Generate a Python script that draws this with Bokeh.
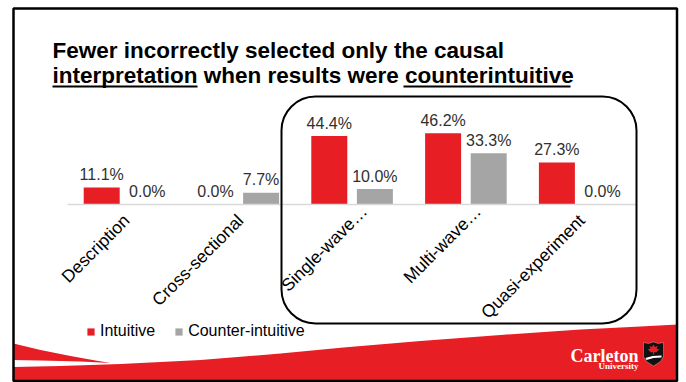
import math
from bokeh.plotting import figure
from bokeh.models import (ColumnDataSource, Range1d, Label, BoxAnnotation, PolyAnnotation,
                          Legend, LegendItem, CDSView, BooleanFilter)
from bokeh.transform import dodge
from bokeh.core.properties import value
from bokeh.embed import file_html
from bokeh.resources import INLINE

# ---- data ----
categories = ["Description", "Cross-sectional", "Single-wave\u2026", "Multi-wave\u2026", "Quasi-experiment"]
intuitive = [11.1, 0.0, 44.4, 46.2, 27.3]
counter_intuitive = [0.0, 7.7, 10.0, 33.3, 0.0]
series_names = ["Intuitive", "Counter-intuitive"]
title_line1 = "Fewer incorrectly selected only the causal"
title_line2 = "interpretation when results were counterintuitive"

W, H = 686, 382
RED = "#E81E25"
GRAY = "#A5A5A5"
TXT = "#303030"
FONT = "Liberation Sans"

idx = list(range(len(categories)))
src = ColumnDataSource(dict(
    idx=idx, cat=categories,
    intuitive=intuitive, counter=counter_intuitive,
    zero=[0] * len(categories),
    lab_i=["%.1f%%" % v for v in intuitive],
    lab_c=["%.1f%%" % v for v in counter_intuitive],
))

px_per_cat = 113.8
px_per_pct = 1.54
x0_px = 124.0      # pixel position of first category centre
base_px = 204.0    # pixel row (from top) of the zero line

p = figure(width=W, height=H, output_backend="svg", toolbar_location=None,
           x_axis_location=None, y_axis_location=None,
           x_range=Range1d(-x0_px / px_per_cat, (W - x0_px) / px_per_cat),
           y_range=Range1d(-(H - base_px) / px_per_pct, base_px / px_per_pct),
           min_border=0, outline_line_color=None, background_fill_color="white",
           border_fill_color="white")
p.grid.visible = False

# ---- background swoosh (screen units, y measured from bottom) ----
def scr(pts):
    return [q[0] for q in pts], [H - q[1] for q in pts]

band = [(13, 366.5), (60, 365.5), (120, 363.5), (200, 359.5), (280, 353), (343, 347),
        (420, 340.5), (500, 334.5), (580, 329), (640, 326), (677, 324), (677, 381), (13, 381)]
bx, by = scr(band)
p.add_layout(PolyAnnotation(xs=bx, ys=by, xs_units="screen", ys_units="screen",
                            fill_color=RED, fill_alpha=1, line_alpha=0))
wedge = [(13, 343), (40, 349.5), (70, 355.5), (95, 360), (110, 362.5), (80, 361),
         (40, 360), (13, 359.5)]
wx, wy = scr(wedge)
p.add_layout(PolyAnnotation(xs=wx, ys=wy, xs_units="screen", ys_units="screen",
                            fill_color=RED, fill_alpha=1, line_alpha=0))

# ---- bars ----
bw = 36 / px_per_cat
off = 22.8 / px_per_cat
r1 = p.vbar(x=dodge("idx", -off, range=p.x_range), top="intuitive", bottom=0, width=bw,
            source=src, fill_color=RED, line_color=None)
r2 = p.vbar(x=dodge("idx", off, range=p.x_range), top="counter", bottom=0, width=bw,
            source=src, fill_color=GRAY, line_color=None)

# zero line
p.segment(x0=-0.5, y0=0, x1=len(categories) - 0.5, y1=0, line_color="#D9D9D9", line_width=1.5)

# value labels
for field, lab, o in (("intuitive", "lab_i", -off), ("counter", "lab_c", off)):
    p.text(x=dodge("idx", o, range=p.x_range), y=field, text=lab, source=src,
           text_font=value(FONT), text_font_size=value("16px"), text_color=TXT,
           text_align="center", text_baseline="alphabetic", y_offset=-13)

# category labels (truncated labels sit a little further along their slant, as in Excel)
truncated = [c.endswith("\u2026") for c in categories]
for mask, xo, yo in (([not t for t in truncated], 2, 13), (truncated, 12, 4)):
    p.text(x="idx", y="zero", text="cat", source=src, view=CDSView(filter=BooleanFilter(mask)),
           angle=math.pi / 4,
           text_font=value(FONT), text_font_size=value("17.5px"), text_color="#000000",
           text_align="right", text_baseline="middle", x_offset=xo, y_offset=yo)

# ---- legend ----
legend = Legend(items=[LegendItem(label=series_names[0], renderers=[r1]),
                       LegendItem(label=series_names[1], renderers=[r2])],
                orientation="horizontal", location=(86, 42),
                glyph_width=9, glyph_height=9, label_standoff=5, spacing=19,
                label_text_font=FONT, label_text_font_size="16px", label_text_color="#000000",
                label_height=16, padding=0, margin=0,
                border_line_alpha=0, background_fill_alpha=0)
p.add_layout(legend)

# ---- rounded highlight box ----
p.add_layout(BoxAnnotation(left=281, right=636, top=H - 96, bottom=H - 323,
                           left_units="screen", right_units="screen",
                           top_units="screen", bottom_units="screen",
                           fill_alpha=0, line_color="black", line_alpha=1, line_width=2,
                           border_radius=34))

# ---- slide border ----
p.add_layout(BoxAnnotation(left=13, right=676.5, top=H - 8, bottom=H - 380.5,
                           left_units="screen", right_units="screen",
                           top_units="screen", bottom_units="screen",
                           fill_alpha=0, line_color="black", line_alpha=1, line_width=2.5))

# ---- title ----
for txt, yb in ((title_line1, 50), (title_line2, 75)):
    p.add_layout(Label(x=52, y=H - yb, x_units="screen", y_units="screen", text=txt,
                       text_font=FONT, text_font_style="bold", text_font_size="22.5px",
                       text_color="black", text_baseline="alphabetic", text_align="left"))
for l, r in ((52, 197), (403, 570)):
    p.add_layout(BoxAnnotation(left=l, right=r, top=H - 85, bottom=H - 87,
                               left_units="screen", right_units="screen",
                               top_units="screen", bottom_units="screen",
                               fill_color="black", fill_alpha=1, line_alpha=0))

# ---- logo ----
p.add_layout(Label(x=638, y=H - 355, x_units="screen", y_units="screen", text="Carleton",
                   text_font="Liberation Serif", text_font_style="bold", text_font_size="18px",
                   text_color="white", text_align="right", text_baseline="alphabetic"))
p.add_layout(Label(x=638, y=H - 365, x_units="screen", y_units="screen", text="University",
                   text_font="Liberation Serif", text_font_style="bold", text_font_size="9px",
                   text_color="white", text_align="right", text_baseline="alphabetic"))
shield = [(643, 342), (648, 343), (653, 341.5), (658, 343), (663, 342), (663, 356), (660, 361),
          (653, 365.5), (646, 361), (643, 356)]
sx, sy = scr(shield)
p.add_layout(PolyAnnotation(xs=sx, ys=sy, xs_units="screen", ys_units="screen",
                            fill_color="#111111", fill_alpha=1, line_color="white", line_width=1))
leaf = [(653, 344), (654.5, 346.5), (657, 345.5), (656.2, 348.5), (659, 348.5), (655.5, 352),
        (653.6, 351.5), (653.6, 354), (652.4, 354), (652.4, 351.5), (650.5, 352), (647, 348.5),
        (649.8, 348.5), (649, 345.5), (651.5, 346.5)]
lx, ly = scr(leaf)
p.add_layout(PolyAnnotation(xs=lx, ys=ly, xs_units="screen", ys_units="screen",
                            fill_color=RED, fill_alpha=1, line_alpha=0))
stripe = [(645, 357.5), (652, 355.5), (661, 355), (661, 357), (653, 357.5), (646, 359.5)]
tx, ty = scr(stripe)
p.add_layout(PolyAnnotation(xs=tx, ys=ty, xs_units="screen", ys_units="screen",
                            fill_color="white", fill_alpha=1, line_alpha=0))

open("out.html", "w").write(file_html(p, INLINE))
